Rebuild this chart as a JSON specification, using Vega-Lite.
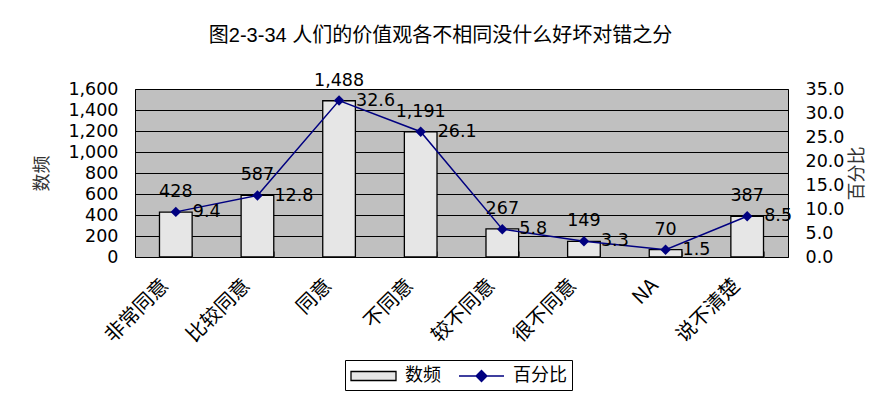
{
  "$schema": "https://vega.github.io/schema/vega-lite/v6.json",
  "width": 653,
  "height": 168,
  "autosize": {"type": "none"},
  "padding": {"left": 135, "top": 89, "right": 102, "bottom": 137},
  "background": "white",
  "title": {
    "text": "图2-3-34 人们的价值观各不相同没什么好坏对错之分",
    "font": "Liberation Sans, Noto Sans CJK SC",
    "fontSize": 20,
    "fontWeight": "normal",
    "color": "black",
    "anchor": "middle",
    "frame": "group",
    "dx": -21,
    "offset": 26
  },
  "config": {
    "view": {"fill": "#C0C0C0", "stroke": "black", "strokeWidth": 1}
  },
  "data": {
    "values": [
      {"cat": "非常同意", "n": 428, "pct": 9.4},
      {"cat": "比较同意", "n": 587, "pct": 12.8},
      {"cat": "同意", "n": 1488, "pct": 32.6},
      {"cat": "不同意", "n": 1191, "pct": 26.1},
      {"cat": "较不同意", "n": 267, "pct": 5.8},
      {"cat": "很不同意", "n": 149, "pct": 3.3},
      {"cat": "NA", "n": 70, "pct": 1.5},
      {"cat": "说不清楚", "n": 387, "pct": 8.5}
    ]
  },
  "encoding": {
    "x": {
      "field": "cat",
      "type": "nominal",
      "sort": null,
      "scale": {"paddingInner": 0.6, "paddingOuter": 0.3},
      "axis": {
        "title": null,
        "labelAngle": -45,
        "labelAlign": "right",
        "labelBaseline": "middle",
        "labelFont": "Noto Sans CJK SC",
        "labelFontSize": 20,
        "labelColor": "black",
        "domain": false,
        "ticks": true,
        "tickBand": "extent",
        "tickSize": -6,
        "tickColor": "#555555",
        "labelPadding": 31,
        "labelOffset": -11,
        "grid": false
      }
    }
  },
  "layer": [
    {
      "encoding": {
        "y": {
          "field": "n",
          "type": "quantitative",
          "scale": {"domain": [0, 1600], "nice": false},
          "axis": {
            "orient": "left",
            "title": "数频",
            "titleFont": "Noto Sans CJK SC",
            "titleFontSize": 18,
            "titleFontWeight": "normal",
            "titleColor": "#333333",
            "titleAngle": 270,
            "titleX": -93,
            "titleY": 84,
            "titleAlign": "center",
            "titleBaseline": "middle",
            "labelFont": "DejaVu Sans",
            "labelFontSize": 17.5,
            "labelColor": "black",
            "labelPadding": 17,
            "labelFlush": false,
            "labelOverlap": false,
            "labelBound": false,
            "values": [0, 200, 400, 600, 800, 1000, 1200, 1400, 1600],
            "format": ",.0f",
            "ticks": false,
            "domain": false,
            "grid": true,
            "gridColor": "black",
            "gridOpacity": 1,
            "gridWidth": 1
          }
        }
      },
      "layer": [
        {
          "mark": {"type": "bar", "stroke": "black", "strokeWidth": 1.3},
          "encoding": {
            "color": {
              "datum": "数频",
              "scale": {"domain": ["数频", "百分比"], "range": ["#e6e6e6", "#000080"]},
              "legend": {
                "title": null,
                "orient": "none",
                "legendX": 210,
                "legendY": 271,
                "direction": "horizontal",
                "symbolSize": 400,
                "symbolOpacity": 1,
                "symbolStrokeWidth": 1.3,
                "labelFont": "Noto Sans CJK SC",
                "labelFontSize": 18,
                "labelColor": "black",
                "labelOffset": 33,
                "columnPadding": 15,
                "padding": 5,
                "strokeColor": "black",
                "fillColor": "white",
                "encode": {
                  "symbols": {
                    "update": {
                      "stroke": {"signal": "datum.value === '数频' ? 'black' : '#000080'"},
                      "strokeWidth": {"value": 1.3},
                      "opacity": {"value": 1}
                    }
                  }
                }
              }
            }
          }
        },
        {
          "mark": {"type": "text", "baseline": "alphabetic", "dy": -15, "font": "DejaVu Sans", "fontSize": 17.5, "color": "black"},
          "encoding": {
            "text": {"field": "n", "type": "quantitative", "format": ","}
          }
        }
      ]
    },
    {
      "encoding": {
        "y": {
          "field": "pct",
          "type": "quantitative",
          "scale": {"domain": [0, 35], "nice": false},
          "axis": {
            "orient": "right",
            "title": "百分比",
            "titleFont": "Noto Sans CJK SC",
            "titleFontSize": 18,
            "titleFontWeight": "normal",
            "titleColor": "#333333",
            "titleAngle": 270,
            "titleX": 69,
            "titleY": 84,
            "titleAlign": "center",
            "titleBaseline": "middle",
            "labelFont": "DejaVu Sans",
            "labelFontSize": 17.5,
            "labelColor": "black",
            "labelPadding": 17,
            "labelFlush": false,
            "labelOverlap": false,
            "labelBound": false,
            "values": [0, 5, 10, 15, 20, 25, 30, 35],
            "format": ".1f",
            "ticks": false,
            "domain": false,
            "grid": false
          }
        }
      },
      "layer": [
        {
          "mark": {"type": "line", "strokeWidth": 1.5, "color": "#000080", "point": {"shape": "diamond", "size": 110, "filled": true, "color": "#000080"}},
          "encoding": {}
        },
        {
          "mark": {"type": "point", "filled": true, "opacity": 0, "size": 110},
          "encoding": {
            "color": {
              "datum": "百分比",
              "legend": {
                "title": null,
                "orient": "none",
                "legendX": 210,
                "legendY": 271,
                "direction": "horizontal",
                "symbolSize": 400,
                "symbolOpacity": 1,
                "symbolStrokeWidth": 1.3,
                "labelFont": "Noto Sans CJK SC",
                "labelFontSize": 18,
                "labelColor": "black",
                "labelOffset": 33,
                "columnPadding": 15,
                "padding": 5,
                "strokeColor": "black",
                "fillColor": "white",
                "encode": {
                  "symbols": {
                    "update": {
                      "stroke": {"signal": "datum.value === '数频' ? 'black' : '#000080'"},
                      "strokeWidth": {"value": 1.3},
                      "opacity": {"value": 1}
                    }
                  }
                }
              }
            },
            "shape": {
              "datum": "百分比",
              "scale": {
                "domain": ["数频", "百分比"],
                "range": ["M-1,-0.45H3.5V0.45H-1Z", "M-1,0H3.5M1.25,-0.55L1.8,0L1.25,0.55L0.7,0Z"]
              },
              "legend": {
                "title": null,
                "orient": "none",
                "legendX": 210,
                "legendY": 271,
                "direction": "horizontal",
                "symbolSize": 400,
                "symbolOpacity": 1,
                "symbolStrokeWidth": 1.3,
                "labelFont": "Noto Sans CJK SC",
                "labelFontSize": 18,
                "labelColor": "black",
                "labelOffset": 33,
                "columnPadding": 15,
                "padding": 5,
                "strokeColor": "black",
                "fillColor": "white",
                "encode": {
                  "symbols": {
                    "update": {
                      "stroke": {"signal": "datum.value === '数频' ? 'black' : '#000080'"},
                      "strokeWidth": {"value": 1.3},
                      "opacity": {"value": 1}
                    }
                  }
                }
              }
            }
          }
        },
        {
          "mark": {"type": "text", "align": "left", "baseline": "middle", "dx": 17, "font": "DejaVu Sans", "fontSize": 17.5, "color": "black"},
          "encoding": {
            "text": {"field": "pct", "type": "quantitative", "format": ".1f"}
          }
        }
      ]
    }
  ],
  "resolve": {"scale": {"y": "independent"}}
}
